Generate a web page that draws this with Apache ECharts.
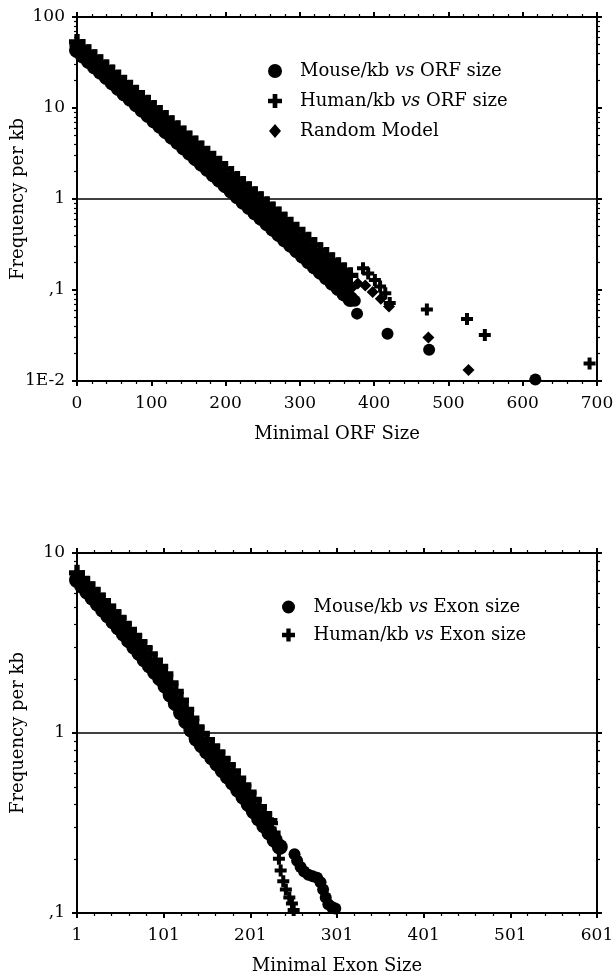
<!DOCTYPE html>
<html>
<head>
<meta charset="utf-8">
<script src="https://cdn.jsdelivr.net/npm/echarts@6/dist/echarts.min.js"></script>
<style>
  html, body { margin: 0; padding: 0; background: #fff; }
  #chart { width: 614px; height: 977px; }
</style>
</head>
<body>
<div id="chart"></div>
<script>
// ---- top panel: frequency per kb vs minimal ORF size ----
const orfSize = [0, 8, 16, 24, 32, 40, 48, 56, 64, 72, 80, 88, 96, 104, 112, 120, 128, 136, 144, 152,
  160, 168, 176, 184, 192, 200, 208, 216, 224, 232, 240, 248, 256, 264, 272, 280, 288, 296, 304, 312,
  320, 328, 336, 344, 352, 360, 368];
const mouseOrf = [43.2, 37.6, 32.8, 28.6, 25.0, 21.8, 19.0, 16.6, 14.4, 12.6, 11.0, 9.57, 8.36, 7.28, 6.35,
  5.53, 4.83, 4.22, 3.67, 3.21, 2.79, 2.43, 2.13, 1.85, 1.62, 1.41, 1.23, 1.07, 0.933, 0.817, 0.711, 0.619,
  0.541, 0.471, 0.411, 0.359, 0.313, 0.273, 0.238, 0.207, 0.181, 0.158, 0.138, 0.120, 0.105, 0.0912, 0.0794];
const humanOrf = [53.1, 46.7, 41.1, 36.1, 31.8, 27.9, 24.5, 21.6, 19.0, 16.7, 14.7, 12.9, 11.4, 10.0, 8.81,
  7.74, 6.79, 5.98, 5.26, 4.63, 4.07, 3.58, 3.15, 2.77, 2.44, 2.14, 1.88, 1.66, 1.46, 1.28, 1.13, 0.991,
  0.873, 0.767, 0.676, 0.593, 0.521, 0.459, 0.404, 0.356, 0.313, 0.274, 0.242, 0.212, 0.187, 0.164, 0.145];
const randomOrf = [47.9, 41.9, 36.7, 32.1, 28.2, 24.7, 21.6, 18.9, 16.6, 14.5, 12.7, 11.1, 9.75, 8.53, 7.48,
  6.55, 5.73, 5.02, 4.40, 3.85, 3.37, 2.95, 2.59, 2.26, 1.98, 1.74, 1.52, 1.33, 1.17, 1.02, 0.895, 0.784,
  0.687, 0.601, 0.527, 0.461, 0.404, 0.354, 0.310, 0.272, 0.238, 0.208, 0.182, 0.160, 0.140, 0.122, 0.107];
// isolated points past the end of the band
const mouseOrfTail = [[374, 0.076], [377, 0.055], [418, 0.033], [474, 0.022], [617, 0.0104]];
const humanOrfTail = [[385, 0.173], [392, 0.152], [401, 0.129], [408, 0.109], [415, 0.092], [421, 0.072],
  [471, 0.061], [525, 0.048], [549, 0.032], [690, 0.0156]];
const randomOrfTail = [[378, 0.118], [388, 0.112], [398, 0.095], [409, 0.08], [420, 0.066], [473, 0.030], [527, 0.0132]];
const orfYTicks = [0.01, 0.1, 1, 10, 100];
const orfYLabels = ['1E-2', ',1', '1', '10', '100'];

// ---- bottom panel: frequency per kb vs minimal exon size ----
const exonSize = [1, 7, 13, 19, 25, 31, 37, 43, 49, 55, 61, 67, 73, 79, 85, 91, 97, 103, 109, 115,
  121, 127, 133, 139, 145, 151, 157, 163, 169, 175, 181, 187, 193, 199, 205, 211, 217, 223, 229, 235];
const mouseExon = [7.08, 6.56, 6.08, 5.64, 5.22, 4.84, 4.49, 4.16, 3.85, 3.55, 3.27, 3.01, 2.78, 2.56, 2.37,
  2.18, 2.01, 1.83, 1.63, 1.46, 1.30, 1.16, 1.04, 0.927, 0.855, 0.789, 0.729, 0.673, 0.621, 0.573, 0.528,
  0.483, 0.442, 0.403, 0.367, 0.335, 0.306, 0.280, 0.255, 0.233];
const humanExon = [7.76, 7.23, 6.73, 6.27, 5.83, 5.43, 5.06, 4.71, 4.39, 4.06, 3.76, 3.48, 3.22, 2.98, 2.75,
  2.54, 2.34, 2.13, 1.90, 1.70, 1.52, 1.35, 1.21, 1.08, 0.995, 0.918, 0.849, 0.784, 0.723, 0.667, 0.615,
  0.562, 0.514, 0.469, 0.428, 0.390, 0.356, 0.326];
const mouseExonTail = [[252, 0.212], [255, 0.195], [259, 0.18], [263, 0.17], [268, 0.163], [273, 0.16],
  [278, 0.157], [282, 0.148], [285, 0.135], [288, 0.122], [291, 0.112], [295, 0.108], [299, 0.106]];
const humanExonTail = [[226, 0.315], [229, 0.28], [232, 0.24], [234, 0.2], [236, 0.172], [239, 0.15],
  [242, 0.135], [246, 0.122], [249, 0.113], [251, 0.104]];
const exonYTicks = [0.1, 1, 10];
const exonYLabels = [',1', '1', '10'];

const FONT = 'DejaVu Serif';
const CROSS = 'path://M4,0H8V4H12V8H8V12H4V8H0V4H4Z';
const DIAMOND = 'path://M6,0L12,7L6,14L0,7Z';

function pairs(xs, ys) {
  return ys.map(function (v, i) { return [xs[i], v]; });
}
function logLabel(ticks, labels) {
  return function (v) {
    for (let i = 0; i < ticks.length; i++) {
      if (Math.abs(Math.log10(v) - Math.log10(ticks[i])) < 1e-6) return labels[i];
    }
    return '';
  };
}

const line = { color: '#000', width: 2 };
function xAxisOf(grid, min, max, pos, name) {
  return {
    type: 'value', gridIndex: grid, position: pos, min: min, max: max, interval: 100,
    name: name, nameLocation: 'middle', nameGap: 44, nameMoveOverlap: false,
    nameTextStyle: { fontFamily: FONT, fontSize: 18, color: '#000' },
    axisLine: { onZero: false, lineStyle: line },
    axisTick: { inside: false, length: 5, lineStyle: line },
    minorTick: { show: true, splitNumber: 5, length: 3, lineStyle: { color: '#000', width: 1.2 } },
    splitLine: { show: false },
    axisLabel: { show: pos === 'bottom', color: '#000', fontFamily: FONT, fontSize: 17, margin: 14 }
  };
}
function yAxisOf(grid, min, max, pos, ticks, labels, name) {
  return {
    type: 'log', logBase: 10, gridIndex: grid, position: pos, min: min, max: max,
    name: name, nameLocation: 'middle', nameGap: 50, nameMoveOverlap: false,
    nameTextStyle: { fontFamily: FONT, fontSize: 18, color: '#000' },
    axisLine: { onZero: false, lineStyle: line },
    axisTick: { inside: false, length: 5, lineStyle: line },
    minorTick: { show: true, splitNumber: 9, length: 3, lineStyle: { color: '#000', width: 1.2 } },
    splitLine: { show: false },
    axisLabel: { show: pos === 'left', color: '#000', fontFamily: FONT, fontSize: 17, margin: 12,
      formatter: logLabel(ticks, labels) }
  };
}

const unitLine = {
  silent: true, symbol: 'none', label: { show: false },
  lineStyle: { color: '#000', width: 1.5, type: 'solid' },
  data: [{ yAxis: 1 }]
};
// band points are drawn a little larger than the isolated tail points
function scatter(name, xi, yi, band, tail, symbol, withLine) {
  const s = {
    name: name, type: 'scatter', xAxisIndex: xi, yAxisIndex: yi,
    data: band.concat(tail),
    symbol: symbol,
    symbolSize: function (v, p) { return p.dataIndex < band.length ? 16 : 12; },
    itemStyle: { color: '#000', opacity: 1 }
  };
  if (withLine) s.markLine = unitLine;
  return s;
}

const legendText = {
  color: '#000', fontFamily: FONT, fontSize: 18, lineHeight: 22,
  rich: { i: { fontFamily: FONT, fontSize: 18, fontStyle: 'italic', color: '#000', lineHeight: 22 } }
};
function legendFmt(name) { return name.replace(' vs ', ' {i|vs} '); }

const chart = echarts.init(document.getElementById('chart'));
chart.setOption({
  animation: false,
  backgroundColor: '#fff',
  grid: [
    { left: 77, top: 17, width: 520, height: 364, outerBoundsMode: 'none', containLabel: false },
    { left: 77, top: 553, width: 520, height: 360, outerBoundsMode: 'none', containLabel: false }
  ],
  xAxis: [
    xAxisOf(0, 0, 700, 'bottom', 'Minimal ORF Size'),
    xAxisOf(0, 0, 700, 'top', ''),
    xAxisOf(1, 1, 601, 'bottom', 'Minimal Exon Size'),
    xAxisOf(1, 1, 601, 'top', '')
  ],
  yAxis: [
    yAxisOf(0, 0.01, 100, 'left', orfYTicks, orfYLabels, 'Frequency per kb'),
    yAxisOf(0, 0.01, 100, 'right', orfYTicks, orfYLabels, ''),
    yAxisOf(1, 0.1, 10, 'left', exonYTicks, exonYLabels, 'Frequency per kb'),
    yAxisOf(1, 0.1, 10, 'right', exonYTicks, exonYLabels, '')
  ],
  legend: [
    {
      data: ['Mouse/kb vs ORF size', 'Human/kb vs ORF size', 'Random Model'],
      orient: 'vertical', left: 263, top: 55, itemWidth: 40, itemHeight: 14, itemGap: 8,
      selectedMode: false, formatter: legendFmt, textStyle: legendText
    },
    {
      data: ['Mouse/kb vs Exon size', 'Human/kb vs Exon size'],
      orient: 'vertical', left: 277, top: 591, itemWidth: 40, itemHeight: 13, itemGap: 6,
      selectedMode: false, formatter: legendFmt, textStyle: legendText
    }
  ],
  series: [
    scatter('Random Model', 0, 0, pairs(orfSize, randomOrf), randomOrfTail, DIAMOND, true),
    scatter('Human/kb vs ORF size', 0, 0, pairs(orfSize, humanOrf), humanOrfTail, CROSS, false),
    scatter('Mouse/kb vs ORF size', 0, 0, pairs(orfSize, mouseOrf), mouseOrfTail, 'circle', false),
    scatter('Human/kb vs Exon size', 2, 2, pairs(exonSize, humanExon), humanExonTail, CROSS, true),
    scatter('Mouse/kb vs Exon size', 2, 2, pairs(exonSize, mouseExon), mouseExonTail, 'circle', false)
  ]
});
</script>
</body>
</html>
